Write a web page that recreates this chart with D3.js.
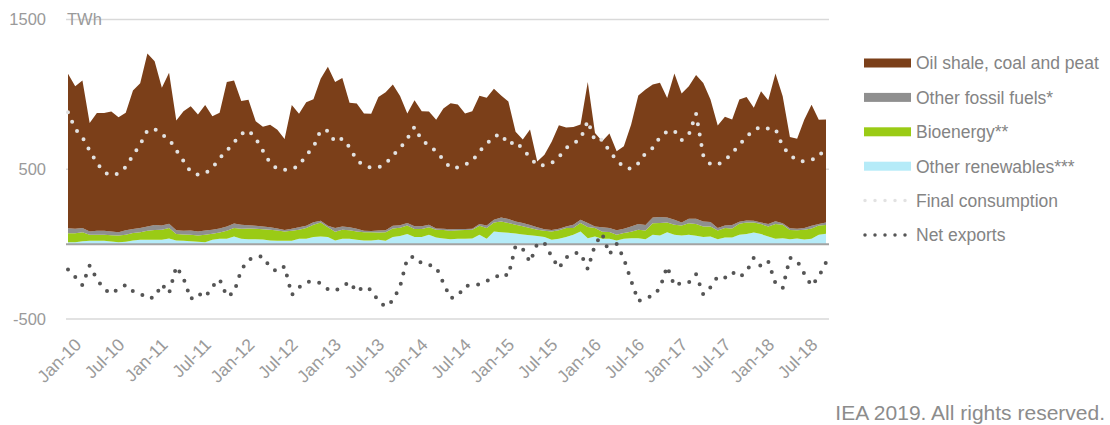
<!DOCTYPE html>
<html>
<head>
<meta charset="utf-8">
<title>Electricity supply, monthly</title>
<script src="https://cdn.jsdelivr.net/npm/d3@7"></script>
<style>
  body { margin: 0; background: #fff; }
  svg text { font-family: "Liberation Sans", Arial, sans-serif; }
</style>
</head>
<body>
<svg width="1110" height="425"></svg>
<script>

// monthly, Jan-10 .. Oct-18
const months = d3.timeMonth.range(new Date(2010, 0, 1), new Date(2018, 10, 1));

const tickLabels = ['Jan-10','Jul-10','Jan-11','Jul-11','Jan-12','Jul-12','Jan-13','Jul-13','Jan-14',
  'Jul-14','Jan-15','Jul-15','Jan-16','Jul-16','Jan-17','Jul-17','Jan-18','Jul-18'];
const yTicks = [-500, 500, 1500];

const otherRenewables = [13,13,20,22,22,22,18,13,16,25, 29,29,29,29,38,25,22,20,16,13, 29,36,36,51,36,33,33,31,25,22,
  22,22,36,36,47,51, 47,25,36,36,29,25,25,29,22,47, 54,67,47,47,62,45,38,33,36,36, 38,62,36,85,80,76,71,65,60,54,
  47,29,36,47, 62,85,40,51,36,36,25,36,40,40, 33,62,58,80,62,58,62,56,47,51, 33,45,45,62,67,78,67,51,36,40,
  33,38,31,36,62,69];

const bioenergy = [60,60,60,40,40,40,42,45,47,49, 51,60,65,67,69,42,42,42,42,49, 40,42,54,56,67,71,69,69,71,69,
  62,67,60,71,83,94, 65,58,60,56,56,54,54,49,58,58, 56,58,54,54,51,51,56,56,56,58, 58,60,71,60,71,65,58,54,47,42,
  42,56,56,60, 45,56,74,56,47,45,38,38,42,56, 58,78,83,65,67,67,78,78,71,67, 58,62,60,74,78,67,67,67,98,89,
  62,54,65,69,62,58];

const otherFossil = [33,29,27,22,27,27,25,22,29,27, 27,29,33,29,29,25,25,29,27,29, 27,27,27,31,27,22,20,18,16,13,
  11,13,16,16,16,11, 11,25,22,20,18,11,9,13,13,18, 16,16,18,18,16,9,9,11,9,7, 7,13,18,18,27,27,22,22,20,16,
  11,9,11,11, 22,22,27,11,29,27,29,29,36,38, 36,38,40,33,33,20,29,36,33,29, 16,18,22,13,13,11,11,16,18,11,
  11,11,11,18,11,18];

const oilShale = [1032,952,986,725,787,787,801,767,785,925, 968,1155,1095,919,1008,734,798,830,781,838,
  758,772,966,954,825,838,698,665,685,660, 607,827,758,825,821,948, 1061,975,992,832,836,783,783,892,921,943,
  863,731,841,769,756,725,803,841,832,772, 785,856,852,874,814,785,600,558,638,439, 497,589,691,660,
  653,636,941,624,575,631,529,551,680,859, 905,888,896,798,977,861,885,959,925,818, 685,725,705,816,825,754,876,827,988,847,
  609,600,725,807,696,687];

const finalConsumption = [881,769,714,624,542,479,459,471,515,593, 665,760,769,731,702,627,555,482,464,473,
  508,573,624,680,736,760,705,624,542,502, 497,500,524,595,647,760, 756,682,705,647,560,524,511,513,537,593,
  640,705,783,694,660,620,562,508,513,531, 555,620,669,720,734,665,687,633,580,526, 526,542,582,642,
  673,702,823,689,698,620,562,513,502,540, 607,642,714,752,756,694,731,872,593,533, 531,558,609,662,718,763,783,772,769,653,
  595,558,553,564,582,653];

const netExports = [-169,-219,-274,-143,-234,-301,-332,-297,-272,-314, -330,-363,-355,-268,-328,-149,-227,-368,-328,-355,
  -283,-234,-350,-323,-172,-105,-83,-83,-156,-183, -149,-339,-288,-254,-248,-261, -301,-312,-283,-252,-319,-283,-306,-381,-419,-377,
  -283,-94,-83,-129,-138,-154,-259,-361,-346,-279, -277,-268,-245,-232,-194,-212,-11,-33,-120,2, 7,-83,-161,-89,
  -60,-60,-167,-4,69,-67,2,-98,-243,-381, -357,-348,-294,-149,-279,-256,-256,-201,-337,-288, -216,-225,-187,-221,-183,-91,-149,-116,-261,-294,
  -91,-112,-198,-279,-216,-123];

const BROWN = '#7b3f19', GREY = '#8f8f8f', GREEN = '#9acb15', BLUE = '#b5ebf8';
const LIGHT = '#e2e2e2', DARK = '#555555';

const layers = [
  {key: 'renew', name: 'Other renewables***', color: BLUE, values: otherRenewables},
  {key: 'bio', name: 'Bioenergy**', color: GREEN, values: bioenergy},
  {key: 'fossil', name: 'Other fossil fuels*', color: GREY, values: otherFossil},
  {key: 'shale', name: 'Oil shale, coal and peat', color: BROWN, values: oilShale}
];

let rows = months.map((m, i) => {
  let r = {i: i};
  layers.forEach(l => r[l.key] = l.values[i]);
  return r;
});

let svg = d3.select('svg');

let x = d3.scaleLinear().domain([0, months.length - 1]).range([68, 826]);
let y = d3.scaleLinear().domain([-500, 1500]).range([319, 19.5]);

// gridlines
svg.append('g').selectAll('line').data(yTicks).enter().append('line')
  .attr('x1', 66).attr('x2', 829)
  .attr('y1', d => y(d)).attr('y2', d => y(d))
  .style('stroke', '#d9d9d9').style('stroke-width', 1.5);

// stacked areas
let stack = d3.stack().keys(layers.map(l => l.key));
let series = stack(rows);
let area = d3.area()
  .x(d => x(d.data.i))
  .y0(d => y(d[0]))
  .y1(d => y(d[1]));

svg.append('g').selectAll('path').data(series).enter().append('path')
  .attr('d', area)
  .style('fill', (d, k) => layers[k].color)
  .style('stroke', 'none');

// zero line
svg.append('line')
  .attr('x1', 66).attr('x2', 829)
  .attr('y1', y(0)).attr('y2', y(0))
  .style('stroke', '#a3a3a3').style('stroke-width', 2);

// dotted lines
let line = d3.line().x((d, i) => x(i)).y(d => y(d));

let dotted = (values, color) => {
  svg.append('path')
    .attr('d', line(values))
    .style('fill', 'none')
    .style('stroke', color)
    .style('stroke-width', 4)
    .style('stroke-linecap', 'round')
    .style('stroke-dasharray', '0 10.5');
};
dotted(finalConsumption, LIGHT);
dotted(netExports, DARK);

// y axis labels
let yAxis = d3.axisLeft(y).tickValues(yTicks).tickSize(0).tickPadding(0).tickFormat(d => String(d));
let gy = svg.append('g').attr('transform', 'translate(46,0)').call(yAxis);
gy.select('.domain').remove();
gy.selectAll('text')
  .style('font-size', '16.5px')
  .style('fill', '#9a9a9a')
  .style('font-family', '"Liberation Sans", Arial, sans-serif');

svg.append('text')
  .attr('x', 67).attr('y', y(1500))
  .attr('dy', '0.36em')
  .style('font-size', '16.5px')
  .style('fill', '#9a9a9a')
  .text('TWh');

// x axis labels
let xAxis = d3.axisBottom(x)
  .tickValues(d3.range(0, months.length, 6))
  .tickSize(0)
  .tickFormat((d, k) => tickLabels[k]);
let gx = svg.append('g').attr('transform', 'translate(0,337)').call(xAxis);
gx.select('.domain').remove();
gx.selectAll('text')
  .attr('x', 0).attr('y', 0).attr('dy', '0.71em')
  .attr('transform', 'translate(5,0) rotate(-45)')
  .style('text-anchor', 'end')
  .style('font-size', '17.5px')
  .style('fill', '#9a9a9a')
  .style('font-family', '"Liberation Sans", Arial, sans-serif');

// legend
const legendItems = [
  {name: 'Oil shale, coal and peat', color: BROWN, kind: 'box'},
  {name: 'Other fossil fuels*', color: GREY, kind: 'box'},
  {name: 'Bioenergy**', color: GREEN, kind: 'box'},
  {name: 'Other renewables***', color: BLUE, kind: 'box'},
  {name: 'Final consumption', color: LIGHT, kind: 'dots'},
  {name: 'Net exports', color: DARK, kind: 'dots'}
];

let lg = svg.append('g');
legendItems.forEach((item, k) => {
  let cy = 63 + k * 34.4;
  if (item.kind === 'box') {
    lg.append('rect')
      .attr('x', 864).attr('y', cy - 4.5)
      .attr('width', 47).attr('height', 9)
      .style('fill', item.color);
  } else {
    lg.append('line')
      .attr('x1', 865).attr('x2', 906)
      .attr('y1', cy).attr('y2', cy)
      .style('stroke', item.color)
      .style('stroke-width', 3.5)
      .style('stroke-linecap', 'round')
      .style('stroke-dasharray', '0 10');
  }
  lg.append('text')
    .attr('x', 916).attr('y', cy)
    .attr('dy', '0.36em')
    .style('font-size', '17.5px')
    .style('fill', '#848484')
    .text(item.name);
});

svg.append('text')
  .attr('x', 1105).attr('y', 420)
  .style('text-anchor', 'end')
  .style('font-size', '21px')
  .style('fill', '#8c8c8c')
  .text('IEA 2019. All rights reserved.');

</script>
</body>
</html>
